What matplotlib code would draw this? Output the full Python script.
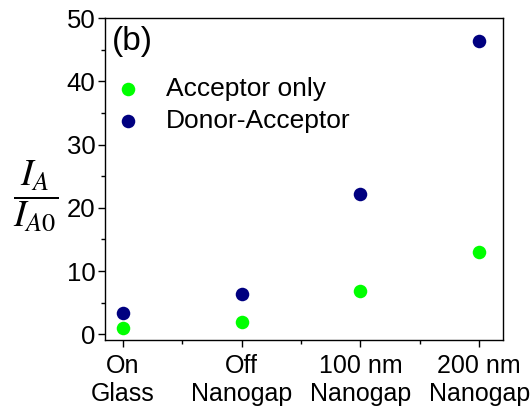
import matplotlib
matplotlib.use("Agg")
import matplotlib.pyplot as plt
from matplotlib.ticker import MultipleLocator

categories = ["On\nGlass", "Off\nNanogap", "100 nm\nNanogap", "200 nm\nNanogap"]
acceptor_only = [1.0, 1.9, 6.9, 13.0]
donor_acceptor = [3.4, 6.4, 22.2, 46.4]

plt.rcParams['font.family'] = ['Liberation Sans', 'DejaVu Sans']
plt.rcParams['mathtext.fontset'] = 'stix'

fig = plt.figure(figsize=(5.31, 4.07), dpi=100)
ax = fig.add_axes([105/531, 1-340/407, (503-105)/531, (340-18)/407])

x = list(range(len(categories)))
ax.scatter(x, acceptor_only, s=95, color='#00ff00', label='Acceptor only', zorder=3, linewidths=0)
ax.scatter(x, donor_acceptor, s=95, color='#000080', label='Donor-Acceptor', zorder=3, linewidths=0)

ax.set_xlim(-0.15, 3.2)
ax.set_ylim(-0.9, 50)
ax.set_xticks(x)
ax.set_xticklabels(categories, fontsize=18, linespacing=1.22)
ax.xaxis.set_minor_locator(MultipleLocator(0.5))
ax.yaxis.set_major_locator(MultipleLocator(10))
ax.yaxis.set_minor_locator(MultipleLocator(5))
ax.tick_params(axis='y', labelsize=18.5, pad=2)
ax.tick_params(which='major', direction='out', length=5, width=1)
ax.tick_params(which='minor', direction='out', length=3, width=1)
ax.tick_params(axis='x', which='both', pad=5)
for s in ax.spines.values():
    s.set_linewidth(1.0)

ax.text(0.018, 0.975, "(b)", transform=ax.transAxes, fontsize=24, ha='left', va='top')

leg = ax.legend(loc='center left', bbox_to_anchor=(0.0246, 0.731), frameon=False,
                fontsize=19, handletextpad=0.94, borderaxespad=0, borderpad=0,
                labelspacing=0.3, handlelength=1.0, scatterpoints=1)

fig.text(36/531, 1-196/407, r"$\dfrac{I_A}{I_{A0}}$", fontsize=27, ha='center', va='center')

fig.savefig("out.png", dpi=100)
